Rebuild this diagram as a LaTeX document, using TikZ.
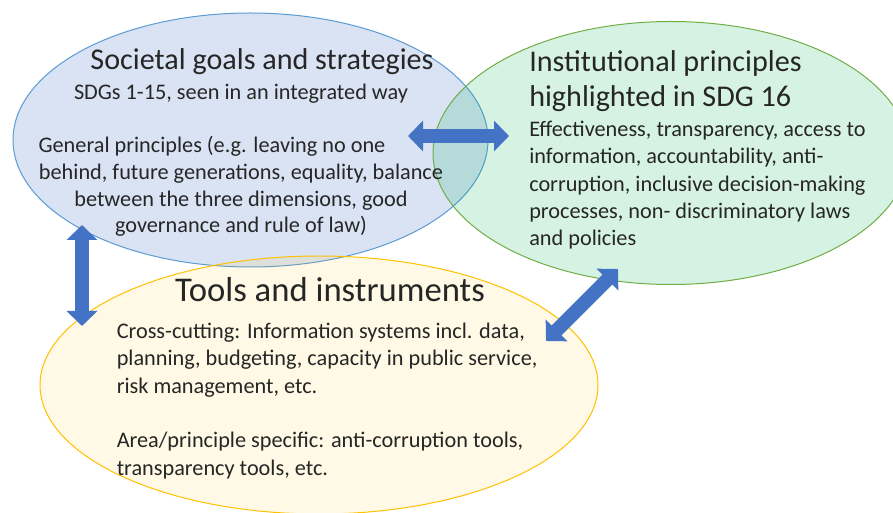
\documentclass[tikz,border=0pt]{standalone}
\usepackage{fontspec}
\setmainfont{Carlito}
\usetikzlibrary{shapes.geometric}
\usetikzlibrary{arrows.meta}
\definecolor{goalsline}{HTML}{5B9BD5}
\definecolor{instline}{HTML}{70AD47}
\definecolor{instfill}{HTML}{00B050}
\definecolor{toolsline}{HTML}{FFC000}
\definecolor{linkblue}{HTML}{4472C4}
\definecolor{textgray}{HTML}{262626}
\tikzset{   bubble/.style = {ellipse, inner sep=0, line width=0.75pt},
            head/.style = {inner sep=0, text=textgray, font=\fontsize{22.6pt}{26.8pt}\selectfont},
            body/.style = {inner sep=0, text=textgray, font=\fontsize{16.7pt}{20.5pt}\selectfont},
            link/.style = {line width=10.5pt, draw=linkblue, >={Triangle[width=22.5pt 0 0,length=11.25pt 0 0]}, <->}}

\begin{document}
\begin{tikzpicture}[x=0.75pt,y=-0.75pt]
\clip (0,0) rectangle (893,513);
\node[bubble, draw=goalsline, fill=linkblue, fill opacity=0.2, minimum width=356.25pt, minimum height=190.5pt] (goals) at (250.5,140) {};
\node[bubble, draw=instline, fill=instfill, fill opacity=0.16, minimum width=357pt, minimum height=197.25pt] (inst) at (671,153) {};
\node[bubble, draw=toolsline, fill=toolsline, fill opacity=0.1, minimum width=418.5pt, minimum height=193.5pt] (tools) at (319,385) {};

\node[head, anchor=base] (goals title) at (262,70) {Societal goals and strategies};
\node[body, anchor=base, align=center, font=\fontsize{16.7pt}{20pt}\selectfont] (goals text) at (241,233) {SDGs 1-15, seen in an integrated way\\[20pt]
  General principles (e.g. leaving no one\rule{43.5pt}{0pt}\\
  behind, future generations, equality, balance\\
  between the three dimensions, good\\
  governance and rule of law)};

\node[head, anchor=base west, align=left] (inst title) at (529,107) {Institutional principles\\highlighted in SDG 16};
\node[body, anchor=base west, align=left] (inst text) at (529,246) {Effectiveness, transparency, access to\\
  information, accountability, anti-\\
  corruption, inclusive decision-making\\
  processes, non- discriminatory laws\\
  and policies};

\node[head, anchor=base, font=\fontsize{26pt}{30pt}\selectfont] (tools title) at (330,302) {Tools and instruments};
\node[body, anchor=base west, align=left] (tools text) at (116.5,475) {Cross-cutting: Information systems incl. data,\\
  planning, budgeting, capacity in public service,\\
  risk management, etc.\\[20.5pt]
  Area/principle specific: anti-corruption tools,\\
  transparency tools, etc.};

\coordinate (goalsR) at (408,136);
\coordinate (instL) at (509,136);
\coordinate (goalsB) at (82,225);
\coordinate (toolsL) at (82,326);
\coordinate (instB) at (618,269);
\coordinate (toolsR) at (546,341);
\draw[link] (goalsR) -- (instL);
\draw[link] (goalsB) -- (toolsL);
\draw[link] (instB) -- (toolsR);
\end{tikzpicture}
\end{document}
